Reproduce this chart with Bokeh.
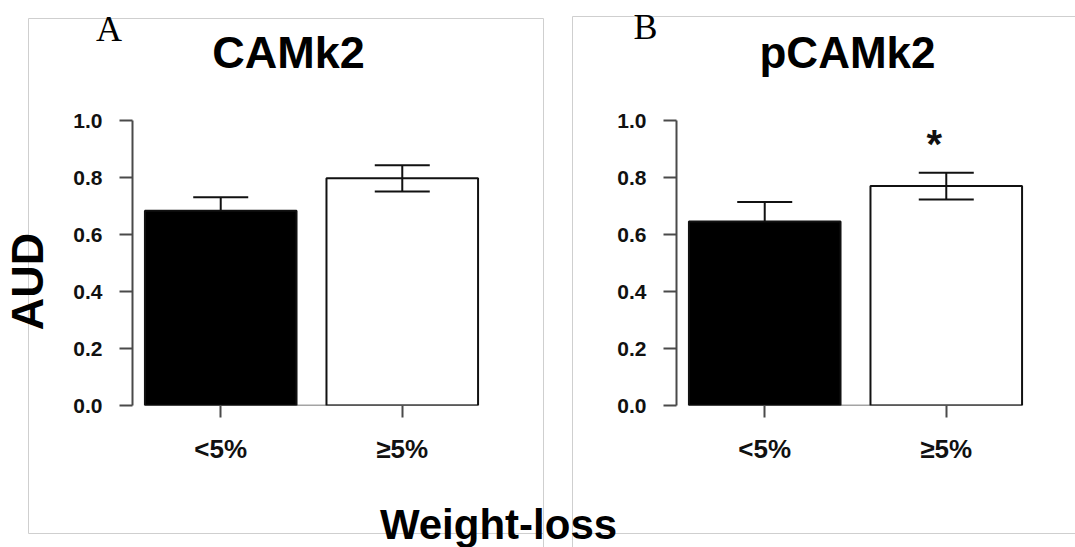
import math
from bokeh.plotting import figure
from bokeh.models import (Range1d, FixedTicker, Whisker, ColumnDataSource, Label,
                          TeeHead, NumeralTickFormatter, GridBox)
from bokeh.core.properties import value
from bokeh.embed import file_html
from bokeh.resources import INLINE

# ---------------- data ----------------
groups = ["<5%", "≥5%"]
group_pos = [1, 2]
bar_colors = ["black", "white"]
bar_alpha = [1.0, 0.0]
camk2_mean = [0.683, 0.797]
camk2_sem = [0.048, 0.046]
pcamk2_mean = [0.646, 0.770]
pcamk2_sem = [0.068, 0.047]
camk2_marks = ["", ""]
pcamk2_marks = ["", "*"]
y_ticks = [0.0, 0.2, 0.4, 0.6, 0.8, 1.0]
panel_letters = ["A", "B"]
panel_titles = ["CAMk2", "pCAMk2"]
y_label = "AUD"
x_label = "Weight-loss"

# ---------------- style / layout ----------------
W, H = 1075, 547
SANS = "Liberation Sans"
SERIF = "Liberation Serif"
PANEL_H = 498
FRAME_L, FRAME_R, FRAME_T, FRAME_B = 132, 490, 120, 405
BAR_W = 0.835
GRAY = "#cfcfcf"
AXIS_C = "#4a4a4a"
INK = "#111111"
BASE_SHIFT = 0.31  # em offset of bokeh's alphabetic baseline


def make_panel(width, means, sems, marks):
    p = figure(width=width, height=PANEL_H,
               x_range=Range1d(0.514, 2.486), y_range=Range1d(0, 1.0),
               output_backend="svg", toolbar_location=None,
               min_border_left=FRAME_L, min_border_right=width - FRAME_R,
               min_border_top=FRAME_T, min_border_bottom=PANEL_H - FRAME_B)
    p.frame_align = False
    p.outline_line_color = None
    p.grid.visible = False
    p.title.visible = False
    p.background_fill_color = None
    p.border_fill_color = None

    ya = p.yaxis[0]
    ya.ticker = FixedTicker(ticks=y_ticks)
    ya.formatter = NumeralTickFormatter(format="0.0")
    ya.axis_line_color = AXIS_C
    ya.axis_line_width = 2
    ya.major_tick_line_color = AXIS_C
    ya.major_tick_line_width = 2
    ya.major_tick_in = 0
    ya.major_tick_out = 13
    ya.minor_tick_line_color = None
    ya.major_label_standoff = 17
    ya.major_label_text_font = SANS
    ya.major_label_text_font_style = "bold"
    ya.major_label_text_font_size = "21px"
    ya.major_label_text_color = INK

    xa = p.xaxis[0]
    xa.ticker = FixedTicker(ticks=group_pos)
    xa.major_label_overrides = dict(zip(group_pos, groups))
    xa.axis_line_color = None
    xa.major_tick_line_color = AXIS_C
    xa.major_tick_line_width = 2
    xa.major_tick_in = 0
    xa.major_tick_out = 12
    xa.minor_tick_line_color = None
    xa.major_label_standoff = 16
    xa.major_label_text_font = SANS
    xa.major_label_text_font_style = "bold"
    xa.major_label_text_font_size = "26px"
    xa.major_label_text_color = INK

    uppers = [m + s for m, s in zip(means, sems)]
    lowers = [m - s for m, s in zip(means, sems)]
    src = ColumnDataSource(dict(x=group_pos, top=means, upper=uppers, lower=lowers,
                                color=bar_colors, alpha=bar_alpha))

    p.add_layout(Whisker(source=src, base="x", upper="upper", lower="lower",
                         line_color=INK, line_width=2, level="underlay",
                         upper_head=TeeHead(size=55, line_color=INK, line_width=2),
                         lower_head=TeeHead(size=55, line_color=INK, line_width=2)))
    p.segment(x0=[group_pos[0] - BAR_W / 2], x1=[group_pos[-1] + BAR_W / 2],
              y0=[0], y1=[0], line_color=AXIS_C, line_width=1.5)
    p.vbar(x="x", top="top", bottom=0, width=BAR_W, source=src,
           fill_color="color", fill_alpha="alpha", line_color=INK, line_width=2)

    for xp, up, mk in zip(group_pos, uppers, marks):
        if mk:
            p.add_layout(Label(x=xp, y=up, text=mk, x_offset=-12, y_offset=7,
                               text_font=SANS, text_font_style="bold",
                               text_font_size="40px", text_align="center",
                               text_baseline="bottom", text_color=INK))
    return p


WA = 544
WB = W - WA
pA = make_panel(WA, camk2_mean, camk2_sem, camk2_marks)
pB = make_panel(WB, pcamk2_mean, pcamk2_sem, pcamk2_marks)

# ---------------- background: panel frames and shared texts ----------------
bg = figure(width=W, height=H, x_range=Range1d(0, W), y_range=Range1d(H, 0),
            x_axis_type=None, y_axis_type=None, min_border=0,
            output_backend="svg", toolbar_location=None)
bg.frame_align = False
bg.outline_line_color = None
bg.grid.visible = False
bg.title.visible = False

# light gray panel borders
bg.segment(x0=[28, 28, 543, 28, 572, 572, 572],
           y0=[18, 18, 18, 533, 16, 16, 533],
           x1=[543, 28, 543, 543, W, 572, W],
           y1=[18, 533, H, 533, 16, H, 533],
           line_color=GRAY, line_width=1)


def txt(x, y, s, size, font=SANS, style="bold", angle=0.0):
    bg.text(x=[x], y=[y], text=[s], angle=angle, text_font=value(font),
            text_font_style=style, text_font_size=f"{size}px",
            text_align="center", text_baseline="alphabetic", text_color="black")


# panel letters (serif)
txt(108.5, 40 - BASE_SHIFT * 36, panel_letters[0], 36, SERIF, "normal")
txt(645, 38 - BASE_SHIFT * 36, panel_letters[1], 36, SERIF, "normal")
# panel titles
txt(288, 66 - BASE_SHIFT * 45, panel_titles[0], 45)
txt(847, 66 - BASE_SHIFT * 44, panel_titles[1], 44)
# shared axis titles
txt(41 - BASE_SHIFT * 45, 281, y_label, 45, angle=math.pi / 2)
txt(498, 537 - BASE_SHIFT * 42, x_label, 42)

layout = GridBox(children=[(bg, 0, 0, 1, 2), (pA, 0, 0), (pB, 0, 1)], spacing=0)
open("out.html", "w").write(file_html(layout, INLINE))
